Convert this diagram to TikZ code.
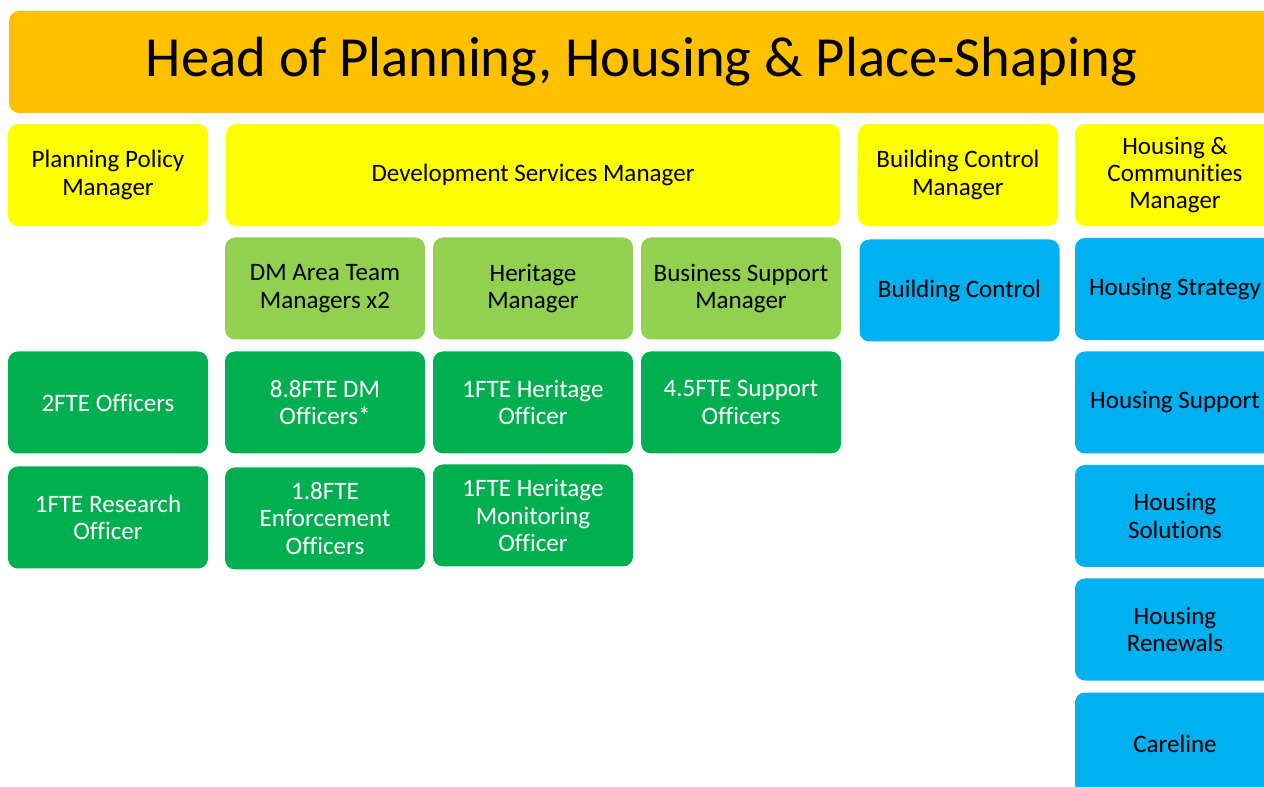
\documentclass[tikz,border=0pt]{standalone}
\usepackage{fontspec}
\setmainfont{Carlito}[Ligatures=NoCommon]
\definecolor{cOrange}{HTML}{FFC000}
\definecolor{cYellow}{HTML}{FFFF00}
\definecolor{cLight}{HTML}{92D050}
\definecolor{cGreen}{HTML}{00B050}
\definecolor{cBlue}{HTML}{00B0F0}
\tikzset{
  box/.style={rounded corners=7.5pt, minimum width=148.5pt, minimum height=76.5pt,
    inner sep=2pt, align=center, text width=146pt,
    font=\fontsize{18.8pt}{20.5pt}\selectfont,
    execute at begin node={\spaceskip=\fontdimen2\font\xspaceskip=\fontdimen2\font}},
  mgr/.style={box, fill=cYellow, text=black},
  lead/.style={box, fill=cLight, text=black},
  staff/.style={box, fill=cGreen, text=white},
  svc/.style={box, fill=cBlue, text=black},
}
\begin{document}
\begin{tikzpicture}[x=0.75pt, y=-0.75pt]
\useasboundingbox[fill=white] (0,0) rectangle (1264,787);
\clip (0,0) rectangle (1264,787);
% head
\node[box, fill=cOrange, minimum width=948.75pt, text width=940pt, minimum height=76.5pt,
  font=\fontsize{42.5pt}{48pt}\selectfont] (head) at (641.5,62) {Head of Planning, Housing \& Place-Shaping};
% managers
\node[mgr] (ppm) at (108,175) {Planning Policy\\Manager};
\node[mgr, minimum width=460.5pt, text width=450pt] (dsm) at (533,175) {Development Services Manager};
\node[mgr] (bcm) at (958,175) {Building Control\\Manager};
\node[mgr] (hcm) at (1175,175) {Housing \&\\Communities\\Manager};
% row 2
\node[lead] (dmatm) at (325,288.5) {DM Area Team\\Managers x2};
\node[lead] (herm) at (533,288.5) {Heritage\\Manager};
\node[lead] (bsm) at (741,288.5) {Business Support\\Manager};
\node[svc] (bc) at (959.5,290.5) {Building Control};
\node[svc] (hstr) at (1175,289) {Housing Strategy};
% row 3
\node[staff] (off2) at (108,402.5) {2FTE Officers};
\node[staff] (dmoff) at (325,402.5) {8.8FTE DM\\Officers*};
\node[staff] (heroff) at (533,402.5) {1FTE Heritage\\Officer};
\node[staff] (supoff) at (741,402.5) {4.5FTE Support\\Officers};
\node[svc] (hsup) at (1175,402.5) {Housing Support};
% row 4
\node[staff] (res) at (108,517.5) {1FTE Research\\Officer};
\node[staff] (enf) at (325,518.5) {1.8FTE\\Enforcement\\Officers};
\node[staff] (hmon) at (533,515.5) {1FTE Heritage\\Monitoring\\Officer};
\node[svc] (hsol) at (1175,516) {Housing\\Solutions};
% rows 5-6
\node[svc] (hren) at (1175,629.5) {Housing\\Renewals};
\node[svc] (care) at (1175,743.5) {Careline};
\end{tikzpicture}
\end{document}
